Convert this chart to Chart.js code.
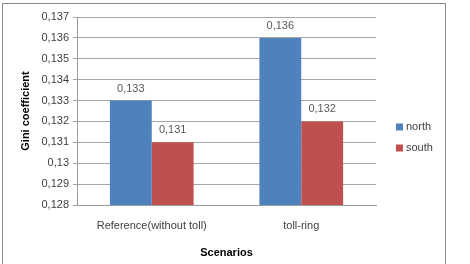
<!DOCTYPE html>
<html>
<head>
<meta charset="utf-8">
<script src="https://cdn.jsdelivr.net/npm/chart.js@4"></script>
<style>
  html, body { margin: 0; padding: 0; background: #fff; }
  #wrap { width: 470px; height: 264px; }
</style>
</head>
<body>
<div id="wrap"><canvas id="giniChart" width="470" height="264"></canvas></div>
<script>
// chart data
const scenarios = ['Reference(without toll)', 'toll-ring'];
const northValues = [0.133, 0.136];
const southValues = [0.131, 0.132];
const seriesNames = ['north', 'south'];
const seriesColors = ['#4F81BD', '#C0504D'];
const yMin = 0.128, yMax = 0.137, yStep = 0.001;

const FONT = 'Liberation Sans, Arial, sans-serif';
const fmt = v => String(+v.toFixed(3)).replace('.', ',');

// outer frame, value labels and legend drawn by hand
const decorPlugin = {
    id: 'decor',
    beforeDraw(chart) {
        const ctx = chart.ctx;
        ctx.save();
        ctx.fillStyle = '#fff';
        ctx.fillRect(0, 0, chart.width, chart.height);
        ctx.strokeStyle = '#8e8e8e';
        ctx.lineWidth = 1;
        ctx.strokeRect(2.5, 3.5, 443, 280);
        ctx.restore();
    },
    afterDatasetsDraw(chart) {
        const ctx = chart.ctx;
        ctx.save();
        ctx.font = '11px ' + FONT;
        ctx.fillStyle = '#595959';
        ctx.textAlign = 'center';
        ctx.textBaseline = 'middle';
        chart.data.datasets.forEach((ds, i) => {
            chart.getDatasetMeta(i).data.forEach((bar, j) => {
                ctx.fillText(fmt(ds.data[j]), bar.x, bar.y - 12);
            });
        });
        // legend
        ctx.textAlign = 'left';
        chart.data.datasets.forEach((ds, i) => {
            const y = 127 + i * 21;
            ctx.fillStyle = ds.backgroundColor;
            ctx.fillRect(396, y - 3.5, 7, 7);
            ctx.fillStyle = '#404040';
            ctx.fillText(ds.label, 406, y);
        });
        ctx.restore();
    }
};

const ctx = document.getElementById('giniChart').getContext('2d');
new Chart(ctx, {
    type: 'bar',
    data: {
        labels: scenarios,
        datasets: [
            { label: seriesNames[0], data: northValues, backgroundColor: seriesColors[0] },
            { label: seriesNames[1], data: southValues, backgroundColor: seriesColors[1] },
        ],
    },
    options: {
        responsive: false,
        animation: false,
        devicePixelRatio: 1,
        layout: { padding: { left: 0, right: 94, top: 17, bottom: 0 } },
        plugins: { legend: { display: false }, tooltip: { enabled: false } },
        datasets: { bar: { categoryPercentage: 0.56, barPercentage: 1.0, borderWidth: 0 } },
        scales: {
            x: {
                grid: { display: false, drawTicks: false },
                border: { color: '#9a9a9a' },
                ticks: { padding: 14, color: '#404040', font: { family: FONT, size: 11 } },
                title: {
                    display: true, text: 'Scenarios', color: '#000',
                    font: { family: FONT, size: 11, weight: 'bold' }, padding: { top: 10 }
                },
                afterFit: s => { s.height = 59; },
            },
            y: {
                min: yMin, max: yMax,
                grid: { color: '#a6a6a6', tickLength: 4 },
                border: { color: '#9a9a9a' },
                ticks: {
                    stepSize: yStep, padding: 4, color: '#404040',
                    font: { family: FONT, size: 11 },
                    callback: v => fmt(v),
                },
                title: {
                    display: true, text: 'Gini coefficient', color: '#000',
                    font: { family: FONT, size: 11, weight: 'bold' }, padding: { top: 19 }
                },
                afterFit: s => { s.width = 77; },
            },
        },
    },
    plugins: [decorPlugin],
});
</script>
</body>
</html>
